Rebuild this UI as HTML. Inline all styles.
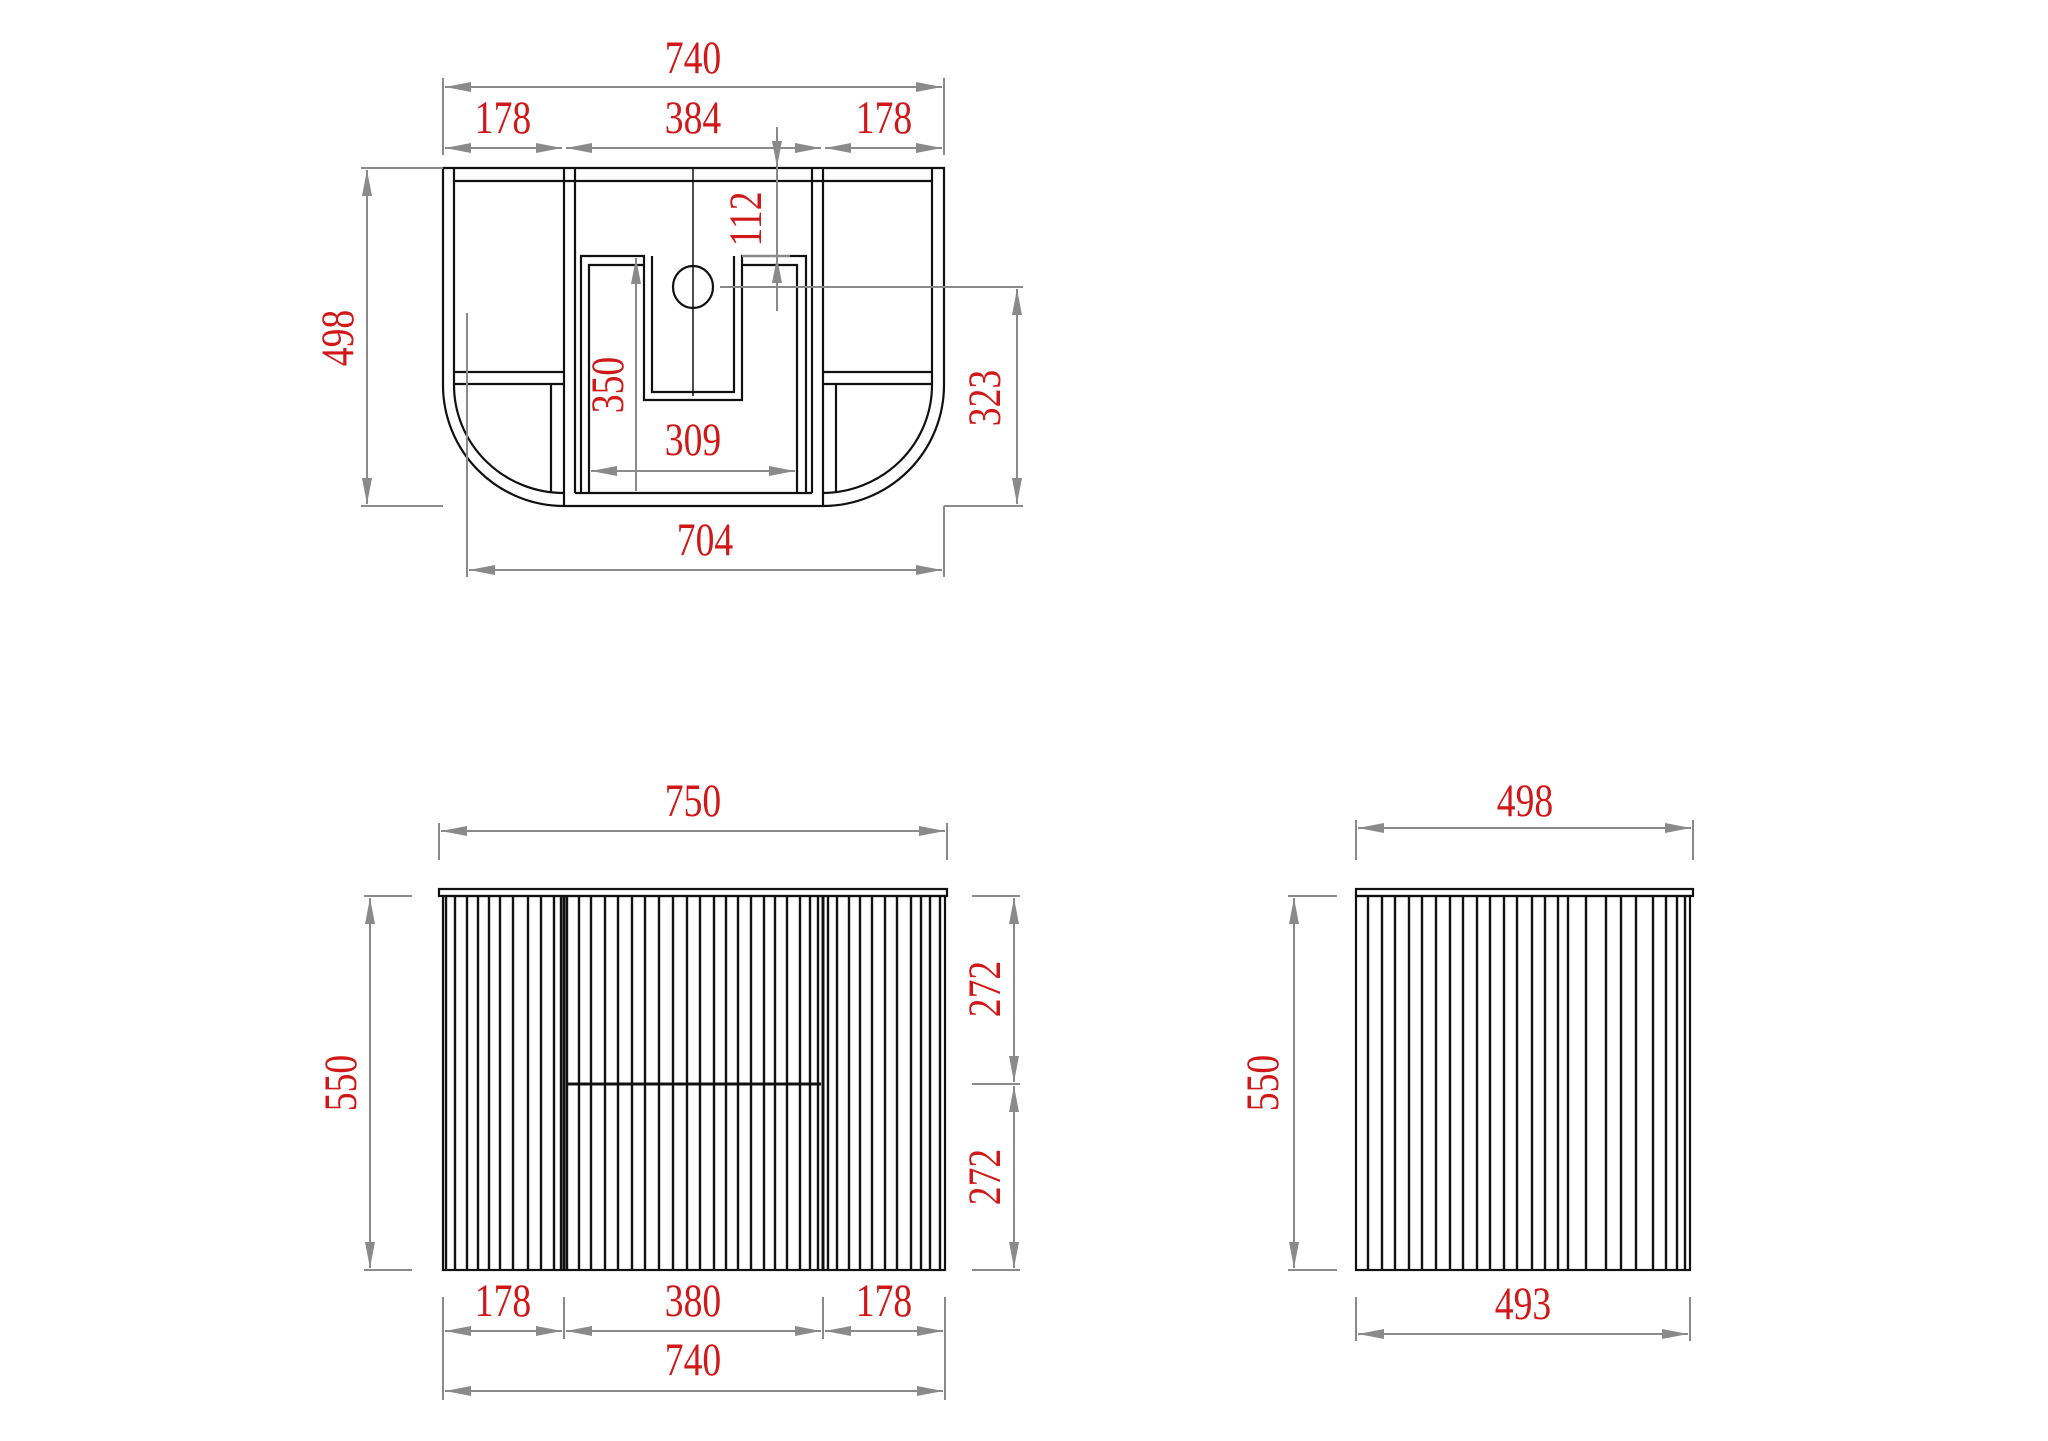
<!DOCTYPE html>
<html><head><meta charset="utf-8"><style>
html,body{margin:0;padding:0;background:#fff;}
svg{display:block;}
.t{font-family:"Liberation Serif",serif;font-size:47px;fill:#d01818;}
.d{stroke:#8a8a8a;stroke-width:2;fill:none;}
.b{stroke:#111;stroke-width:2.2;fill:none;}
.f{stroke:#111;stroke-width:2.4;}
</style></head><body>
<svg width="2048" height="1441" viewBox="0 0 2048 1441" xmlns="http://www.w3.org/2000/svg">
<defs>
<marker id="a" markerUnits="userSpaceOnUse" markerWidth="26" markerHeight="10" refX="26" refY="5" orient="auto-start-reverse"><path d="M0,0 L26,5 L0,10 z" fill="#8a8a8a"/></marker>
</defs>

<!-- ========== TOP VIEW ========== -->
<g class="b">
<path d="M443,168 L944,168 L944,385 A121,121 0 0 1 823,506 L564,506 A121,121 0 0 1 443,385 Z"/>
<path d="M454,168 L454,385 A110,108 0 0 0 564,493 M932,168 L932,385 A110,108 0 0 1 823,493"/>
<line x1="454" y1="181" x2="932" y2="181"/>
<line x1="564" y1="168" x2="564" y2="506"/><line x1="575" y1="168" x2="575" y2="493"/>
<line x1="812" y1="168" x2="812" y2="493"/><line x1="823" y1="168" x2="823" y2="506"/>
<line x1="575" y1="493" x2="812" y2="493"/>
<line x1="454" y1="372" x2="564" y2="372"/><line x1="454" y1="384" x2="564" y2="384"/>
<line x1="823" y1="372" x2="932" y2="372"/><line x1="823" y1="384" x2="932" y2="384"/>
<line x1="551" y1="384" x2="551" y2="493"/><line x1="836" y1="384" x2="836" y2="493"/>
<path d="M581,493 L581,256 L644,256 L644,400 L742,400 L742,256 L806,256 L806,493"/>
<path d="M589,493 L589,265 L644,265 M652,256 L652,392 L734,392 L734,256 M742,265 L797,265 L797,493"/>
<line x1="693" y1="168" x2="693" y2="396" stroke-width="1.5"/>
<ellipse cx="693" cy="287" rx="20" ry="21"/>
</g>
<g class="d">
<line x1="443" y1="78" x2="443" y2="155"/><line x1="944" y1="78" x2="944" y2="155"/>
<line x1="445" y1="87" x2="942" y2="87" marker-start="url(#a)" marker-end="url(#a)"/>
<line x1="445" y1="148" x2="562" y2="148" marker-start="url(#a)" marker-end="url(#a)"/>
<line x1="566" y1="148" x2="821" y2="148" marker-start="url(#a)" marker-end="url(#a)"/>
<line x1="825" y1="148" x2="942" y2="148" marker-start="url(#a)" marker-end="url(#a)"/>
<line x1="361" y1="168" x2="443" y2="168"/><line x1="361" y1="506" x2="443" y2="506"/>
<line x1="367" y1="170" x2="367" y2="504" marker-start="url(#a)" marker-end="url(#a)"/>
<line x1="777" y1="127" x2="777" y2="167" marker-end="url(#a)"/>
<line x1="777" y1="311" x2="777" y2="257" marker-end="url(#a)"/>
<line x1="777" y1="167" x2="777" y2="257"/>
<line x1="742" y1="256" x2="790" y2="256"/>
<line x1="720" y1="287" x2="1023" y2="287"/><line x1="944" y1="506" x2="1023" y2="506"/>
<line x1="1017" y1="289" x2="1017" y2="504" marker-start="url(#a)" marker-end="url(#a)"/>
<line x1="636" y1="258" x2="636" y2="491" marker-start="url(#a)"/>
<line x1="591" y1="471" x2="795" y2="471" marker-start="url(#a)" marker-end="url(#a)"/>
<line x1="467" y1="313" x2="467" y2="577"/><line x1="944" y1="506" x2="944" y2="577"/>
<line x1="469" y1="570" x2="942" y2="570" marker-start="url(#a)" marker-end="url(#a)"/>
</g>
<g class="t" text-anchor="middle" dominant-baseline="central">
<text transform="translate(693,58) scale(0.8,1)">740</text>
<text transform="translate(503,118) scale(0.8,1)">178</text>
<text transform="translate(693,118) scale(0.8,1)">384</text>
<text transform="translate(884,118) scale(0.8,1)">178</text>
<text transform="translate(338,338) rotate(-90) scale(0.8,1)">498</text>
<text transform="translate(746,219) rotate(-90) scale(0.8,1)">112</text>
<text transform="translate(608,385) rotate(-90) scale(0.8,1)">350</text>
<text transform="translate(693,440) scale(0.8,1)">309</text>
<text transform="translate(985,398) rotate(-90) scale(0.8,1)">323</text>
<text transform="translate(705,540) scale(0.8,1)">704</text>
</g>

<!-- ========== FRONT VIEW ========== -->
<rect x="439" y="889" width="508" height="7" class="b"/>
<g class="b">
<rect x="443" y="896" width="502" height="374"/>
<line x1="564" y1="896" x2="564" y2="1270" stroke-width="3"/>
<line x1="823" y1="896" x2="823" y2="1270" stroke-width="3"/>
<line x1="566" y1="1084" x2="821" y2="1084" stroke-width="3"/>
</g>
<g class="f">
<line x1="446" y1="896" x2="446" y2="1270"/><line x1="455" y1="896" x2="455" y2="1270"/><line x1="467" y1="896" x2="467" y2="1270"/><line x1="478" y1="896" x2="478" y2="1270"/><line x1="489" y1="896" x2="489" y2="1270"/><line x1="500" y1="896" x2="500" y2="1270"/><line x1="513" y1="896" x2="513" y2="1270"/><line x1="528" y1="896" x2="528" y2="1270"/><line x1="541" y1="896" x2="541" y2="1270"/><line x1="554" y1="896" x2="554" y2="1270"/><line x1="561" y1="896" x2="561" y2="1270"/>
<line x1="567" y1="896" x2="567" y2="1270"/><line x1="579" y1="896" x2="579" y2="1270"/><line x1="591" y1="896" x2="591" y2="1270"/><line x1="605" y1="896" x2="605" y2="1270"/><line x1="618" y1="896" x2="618" y2="1270"/><line x1="632" y1="896" x2="632" y2="1270"/><line x1="645" y1="896" x2="645" y2="1270"/><line x1="659" y1="896" x2="659" y2="1270"/><line x1="673" y1="896" x2="673" y2="1270"/><line x1="687" y1="896" x2="687" y2="1270"/><line x1="700" y1="896" x2="700" y2="1270"/><line x1="714" y1="896" x2="714" y2="1270"/><line x1="726" y1="896" x2="726" y2="1270"/><line x1="738" y1="896" x2="738" y2="1270"/><line x1="751" y1="896" x2="751" y2="1270"/><line x1="764" y1="896" x2="764" y2="1270"/><line x1="775" y1="896" x2="775" y2="1270"/><line x1="787" y1="896" x2="787" y2="1270"/><line x1="800" y1="896" x2="800" y2="1270"/><line x1="810" y1="896" x2="810" y2="1270"/><line x1="818" y1="896" x2="818" y2="1270"/>
<line x1="828" y1="896" x2="828" y2="1270"/><line x1="837" y1="896" x2="837" y2="1270"/><line x1="849" y1="896" x2="849" y2="1270"/><line x1="860" y1="896" x2="860" y2="1270"/><line x1="872" y1="896" x2="872" y2="1270"/><line x1="885" y1="896" x2="885" y2="1270"/><line x1="897" y1="896" x2="897" y2="1270"/><line x1="911" y1="896" x2="911" y2="1270"/><line x1="921" y1="896" x2="921" y2="1270"/><line x1="930" y1="896" x2="930" y2="1270"/><line x1="940" y1="896" x2="940" y2="1270"/>
</g>
<g class="d">
<line x1="439" y1="823" x2="439" y2="860"/><line x1="947" y1="823" x2="947" y2="860"/>
<line x1="441" y1="831" x2="945" y2="831" marker-start="url(#a)" marker-end="url(#a)"/>
<line x1="364" y1="896" x2="412" y2="896"/><line x1="364" y1="1270" x2="412" y2="1270"/>
<line x1="370" y1="898" x2="370" y2="1268" marker-start="url(#a)" marker-end="url(#a)"/>
<line x1="972" y1="896" x2="1020" y2="896"/><line x1="972" y1="1270" x2="1020" y2="1270"/>
<line x1="972" y1="1084" x2="1020" y2="1084"/>
<line x1="1014" y1="898" x2="1014" y2="1082" marker-start="url(#a)" marker-end="url(#a)"/>
<line x1="1014" y1="1086" x2="1014" y2="1268" marker-start="url(#a)" marker-end="url(#a)"/>
<line x1="443" y1="1297" x2="443" y2="1400"/><line x1="564" y1="1297" x2="564" y2="1339"/><line x1="823" y1="1297" x2="823" y2="1339"/><line x1="945" y1="1297" x2="945" y2="1400"/>
<line x1="445" y1="1331" x2="562" y2="1331" marker-start="url(#a)" marker-end="url(#a)"/>
<line x1="566" y1="1331" x2="821" y2="1331" marker-start="url(#a)" marker-end="url(#a)"/>
<line x1="825" y1="1331" x2="943" y2="1331" marker-start="url(#a)" marker-end="url(#a)"/>
<line x1="445" y1="1391" x2="943" y2="1391" marker-start="url(#a)" marker-end="url(#a)"/>
</g>
<g class="t" text-anchor="middle" dominant-baseline="central">
<text transform="translate(693,801) scale(0.8,1)">750</text>
<text transform="translate(341,1083) rotate(-90) scale(0.8,1)">550</text>
<text transform="translate(985,989) rotate(-90) scale(0.8,1)">272</text>
<text transform="translate(985,1177) rotate(-90) scale(0.8,1)">272</text>
<text transform="translate(503,1301) scale(0.8,1)">178</text>
<text transform="translate(693,1301) scale(0.8,1)">380</text>
<text transform="translate(884,1301) scale(0.8,1)">178</text>
<text transform="translate(693,1360) scale(0.8,1)">740</text>
</g>

<!-- ========== SIDE VIEW ========== -->
<rect x="1356" y="889" width="337" height="7" class="b"/>
<rect x="1356" y="896" width="334" height="374" class="b"/>
<g class="f">
<line x1="1368" y1="896" x2="1368" y2="1270"/><line x1="1382" y1="896" x2="1382" y2="1270"/><line x1="1395" y1="896" x2="1395" y2="1270"/><line x1="1409" y1="896" x2="1409" y2="1270"/><line x1="1422" y1="896" x2="1422" y2="1270"/><line x1="1436" y1="896" x2="1436" y2="1270"/><line x1="1450" y1="896" x2="1450" y2="1270"/><line x1="1463" y1="896" x2="1463" y2="1270"/><line x1="1477" y1="896" x2="1477" y2="1270"/><line x1="1490" y1="896" x2="1490" y2="1270"/><line x1="1504" y1="896" x2="1504" y2="1270"/><line x1="1517" y1="896" x2="1517" y2="1270"/><line x1="1532" y1="896" x2="1532" y2="1270"/><line x1="1545" y1="896" x2="1545" y2="1270"/><line x1="1558" y1="896" x2="1558" y2="1270"/><line x1="1568" y1="896" x2="1568" y2="1270"/><line x1="1586" y1="896" x2="1586" y2="1270"/><line x1="1606" y1="896" x2="1606" y2="1270"/><line x1="1621" y1="896" x2="1621" y2="1270"/><line x1="1636" y1="896" x2="1636" y2="1270"/><line x1="1653" y1="896" x2="1653" y2="1270"/><line x1="1666" y1="896" x2="1666" y2="1270"/><line x1="1677" y1="896" x2="1677" y2="1270"/><line x1="1685" y1="896" x2="1685" y2="1270"/>
</g>
<g class="d">
<line x1="1356" y1="820" x2="1356" y2="860"/><line x1="1693" y1="820" x2="1693" y2="860"/>
<line x1="1358" y1="828" x2="1691" y2="828" marker-start="url(#a)" marker-end="url(#a)"/>
<line x1="1288" y1="896" x2="1337" y2="896"/><line x1="1288" y1="1270" x2="1337" y2="1270"/>
<line x1="1294" y1="898" x2="1294" y2="1268" marker-start="url(#a)" marker-end="url(#a)"/>
<line x1="1356" y1="1297" x2="1356" y2="1341"/><line x1="1690" y1="1297" x2="1690" y2="1341"/>
<line x1="1358" y1="1334" x2="1688" y2="1334" marker-start="url(#a)" marker-end="url(#a)"/>
</g>
<g class="t" text-anchor="middle" dominant-baseline="central">
<text transform="translate(1525,801) scale(0.8,1)">498</text>
<text transform="translate(1263,1083) rotate(-90) scale(0.8,1)">550</text>
<text transform="translate(1523,1304) scale(0.8,1)">493</text>
</g>
</svg>
</body></html>
